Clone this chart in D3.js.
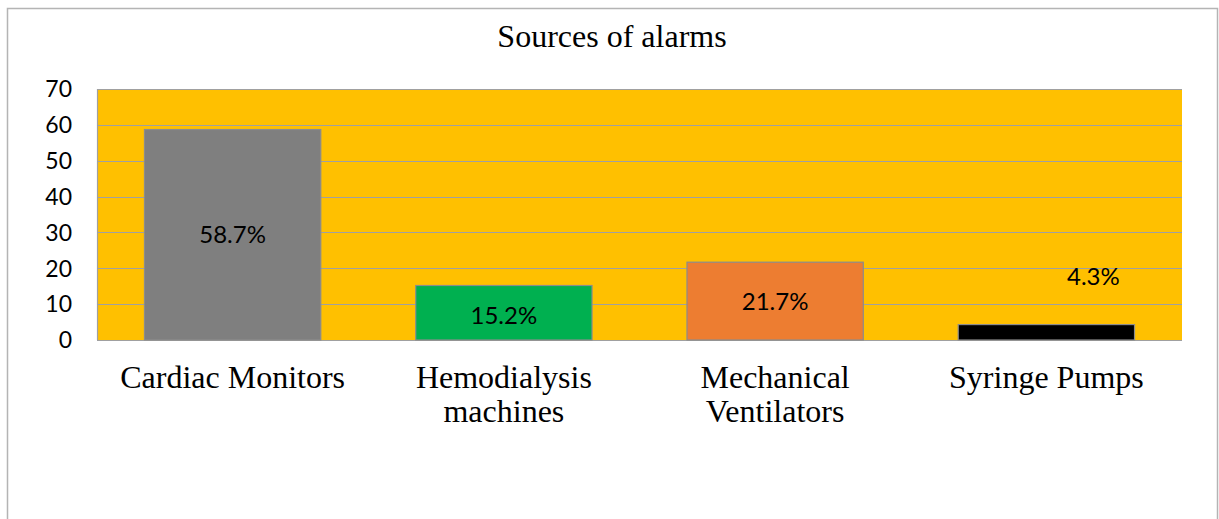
<!DOCTYPE html>
<html lang="en">
<head>
    <meta charset="UTF-8">
    <title>Sources of alarms</title>
    <script src="https://d3js.org/d3.v7.min.js"></script>
    <style>
        body {
            margin: 0;
            background: #fff;
        }
        .tick-label {
            font-family: Lato, "Open Sans", sans-serif;
            font-size: 23px;
            fill: #000;
        }
        .data-label {
            font-family: Lato, "Open Sans", sans-serif;
            font-size: 24px;
            fill: #000;
            text-anchor: middle;
        }
        .cat-label, .chart-title {
            font-family: "Liberation Serif", "Times New Roman", serif;
            font-size: 32px;
            fill: #000;
            text-anchor: middle;
        }
    </style>
</head>
<body>
    <svg id="chart"></svg>

    <script>
        // Data
        const categories = [["Cardiac Monitors"], ["Hemodialysis", "machines"], ["Mechanical", "Ventilators"], ["Syringe Pumps"]];
        const values = [58.7, 15.2, 21.7, 4.3];
        const labels = ["58.7%", "15.2%", "21.7%", "4.3%"];
        const yTicks = [0, 10, 20, 30, 40, 50, 60, 70];

        const barColors = ["#7f7f7f", "#00b050", "#ed7d31", "#000000"];
        // the last label was dragged off its bar in the original
        const labelShift = [[0, 0], [0, 3], [0, 0], [47, -56]];

        const W = 1219, H = 519;
        const plot = {left: 97, right: 1182, top: 89, bottom: 340};

        const svg = d3.select("#chart")
            .attr("width", W)
            .attr("height", H);

        // outer frame
        svg.append("rect")
            .attr("x", 7.5)
            .attr("y", 8.5)
            .attr("width", 1210)
            .attr("height", 530)
            .attr("fill", "#fff")
            .attr("stroke", "#b4b4b4")
            .attr("stroke-width", 1.5);

        svg.append("text")
            .attr("class", "chart-title")
            .attr("x", 612)
            .attr("y", 47)
            .text("Sources of alarms");

        const x = d3.scaleBand()
            .domain(d3.range(values.length))
            .range([plot.left, plot.right])
            .paddingInner(0.35)
            .paddingOuter(0.175);

        const y = d3.scaleLinear()
            .domain([0, 70])
            .range([plot.bottom, plot.top]);

        // plot background
        svg.append("rect")
            .attr("x", plot.left)
            .attr("y", plot.top)
            .attr("width", plot.right - plot.left)
            .attr("height", plot.bottom - plot.top)
            .attr("fill", "#ffc000");

        // gridlines
        svg.append("g")
            .selectAll("line")
            .data(yTicks)
            .enter()
            .append("line")
            .attr("x1", plot.left)
            .attr("x2", plot.right)
            .attr("y1", d => Math.round(y(d)) + 0.5)
            .attr("y2", d => Math.round(y(d)) + 0.5)
            .attr("stroke", "#a0a0a0")
            .attr("stroke-width", 1.2);

        svg.append("line")
            .attr("x1", plot.left + 0.5)
            .attr("x2", plot.left + 0.5)
            .attr("y1", plot.top)
            .attr("y2", plot.bottom)
            .attr("stroke", "#a0a0a0")
            .attr("stroke-width", 1.2);

        // y tick labels
        svg.append("g")
            .selectAll("text")
            .data(yTicks)
            .enter()
            .append("text")
            .attr("class", "tick-label")
            .attr("x", 72)
            .attr("y", d => y(d))
            .attr("dy", "0.36em")
            .attr("text-anchor", "end")
            .text(d => d);

        // bars
        svg.append("g")
            .selectAll("rect")
            .data(values)
            .enter()
            .append("rect")
            .attr("x", (d, i) => x(i))
            .attr("y", d => y(d))
            .attr("width", x.bandwidth())
            .attr("height", d => y(0) - y(d))
            .attr("fill", (d, i) => barColors[i])
            .attr("stroke", "#8c8c8c")
            .attr("stroke-width", 1.2);

        // data labels
        svg.append("g")
            .selectAll("text")
            .data(values)
            .enter()
            .append("text")
            .attr("class", "data-label")
            .attr("x", (d, i) => x(i) + x.bandwidth() / 2 + labelShift[i][0])
            .attr("y", (d, i) => (y(d) + y(0)) / 2 + labelShift[i][1])
            .attr("dy", "0.36em")
            .text((d, i) => labels[i]);

        // category labels
        const cats = svg.append("g")
            .selectAll("text")
            .data(categories)
            .enter()
            .append("text")
            .attr("class", "cat-label")
            .attr("x", (d, i) => x(i) + x.bandwidth() / 2)
            .attr("y", 388);

        cats.selectAll("tspan")
            .data(d => d)
            .enter()
            .append("tspan")
            .attr("x", function() { return d3.select(this.parentNode).attr("x"); })
            .attr("dy", (d, i) => i === 0 ? 0 : 34)
            .text(d => d);
    </script>
</body>
</html>
